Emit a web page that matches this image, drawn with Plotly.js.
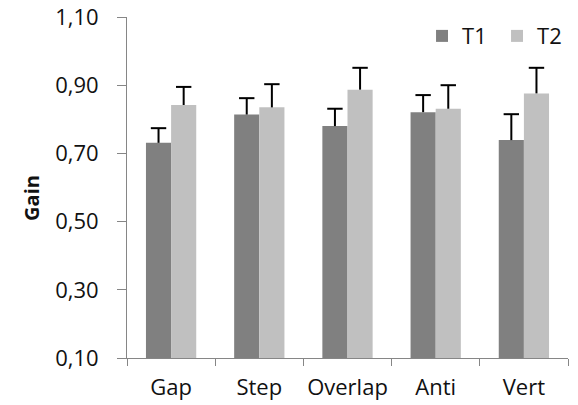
<!DOCTYPE html>
<html>
<head>
<meta charset="utf-8">
<script src="https://cdn.plot.ly/plotly-3.0.1.min.js"></script>
<style>
  html, body { margin: 0; padding: 0; background: #fff; }
  #chart { width: 578px; height: 405px; }
</style>
</head>
<body>
<div id="chart"></div>
<script>
// Conditions on the x axis
const categories = ["Gap", "Step", "Overlap", "Anti", "Vert"];

// Mean gain per condition at each time point
const t1Values = [0.731, 0.814, 0.780, 0.821, 0.739];
const t2Values = [0.842, 0.835, 0.887, 0.831, 0.876];

// Upper error (one-sided) for each mean
const t1Errors = [0.043, 0.048, 0.051, 0.050, 0.076];
const t2Errors = [0.053, 0.068, 0.064, 0.069, 0.075];

// Y axis tick values
const yTicks = [0.10, 0.30, 0.50, 0.70, 0.90, 1.10];

const FONT = "Open Sans, Noto Sans, sans-serif";
const TEXT = "#111111";
const AXIS_GREY = "#868686";
const GAP = 0.43;

// Stem only: rises from the bar top, no cap at the bottom end
function stem(errors) {
  return {
    type: "data",
    array: errors,
    symmetric: false,
    arrayminus: errors.map(() => 0),
    color: "#000000",
    thickness: 2,
    width: 0,
    visible: true
  };
}

// Horizontal cap marker placed at mean + error
function capTrace(values, errors, group) {
  return {
    type: "scatter",
    mode: "markers",
    x: categories,
    y: values.map((v, i) => v + errors[i]),
    offsetgroup: group,
    showlegend: false,
    hoverinfo: "skip",
    marker: {
      symbol: "line-ew",
      size: 11,
      color: "#000000",
      line: { color: "#000000", width: 2 }
    }
  };
}

const traces = [
  {
    type: "bar",
    name: "T1",
    x: categories,
    y: t1Values,
    offsetgroup: "t1",
    marker: { color: "#808080" },
    error_y: stem(t1Errors)
  },
  {
    type: "bar",
    name: "T2",
    x: categories,
    y: t2Values,
    offsetgroup: "t2",
    marker: { color: "#C0C0C0" },
    error_y: stem(t2Errors)
  },
  capTrace(t1Values, t1Errors, "t1"),
  capTrace(t2Values, t2Errors, "t2")
];

const layout = {
  width: 578,
  height: 405,
  margin: { l: 127, r: 10, t: 17, b: 47, pad: 0, autoexpand: false },
  paper_bgcolor: "#ffffff",
  plot_bgcolor: "#ffffff",
  separators: ", ",
  font: { family: FONT, size: 22, color: TEXT },
  barmode: "group",
  bargap: GAP,
  bargroupgap: 0,
  scattermode: "group",
  scattergap: GAP,
  showlegend: true,
  legend: {
    orientation: "h",
    x: 0.669,
    xanchor: "left",
    y: 0.944,
    yanchor: "middle",
    font: { family: FONT, size: 22, color: TEXT },
    bgcolor: "rgba(0,0,0,0)",
    traceorder: "normal",
    itemwidth: 30,
    entrywidth: 30,
    entrywidthmode: "pixels"
  },
  xaxis: {
    type: "category",
    showgrid: false,
    zeroline: false,
    showline: true,
    linecolor: AXIS_GREY,
    linewidth: 1,
    ticks: "outside",
    tickson: "boundaries",
    ticklen: 7,
    tickcolor: AXIS_GREY,
    tickangle: 0,
    tickfont: { family: FONT, size: 22, color: TEXT },
    ticklabelstandoff: 10
  },
  yaxis: {
    range: [0.1, 1.1],
    tickvals: yTicks,
    tickformat: ".2f",
    showgrid: false,
    zeroline: false,
    showline: true,
    linecolor: AXIS_GREY,
    linewidth: 1,
    ticks: "outside",
    ticklen: 9,
    tickcolor: AXIS_GREY,
    tickfont: { family: FONT, size: 22, color: TEXT },
    ticklabelstandoff: 14
  },
  annotations: [
    {
      text: "<b>Gain</b>",
      textangle: -90,
      xref: "paper",
      yref: "paper",
      x: -0.215,
      y: 0.47,
      xanchor: "center",
      yanchor: "middle",
      showarrow: false,
      font: { family: FONT, size: 20, color: TEXT }
    }
  ]
};

Plotly.newPlot("chart", traces, layout, { displayModeBar: false, staticPlot: true });
</script>
</body>
</html>
